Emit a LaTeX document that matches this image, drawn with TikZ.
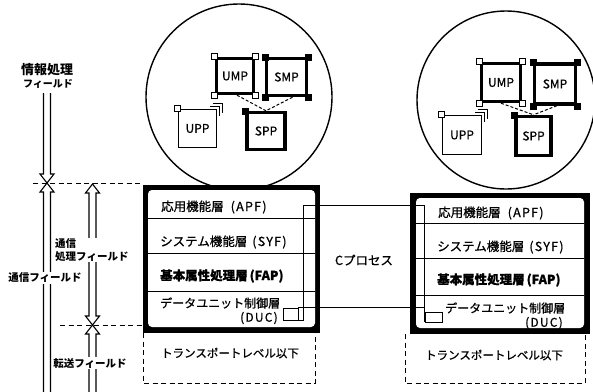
\documentclass[tikz,border=0pt]{standalone}
\usepackage{fontspec}
\setmainfont{Noto Sans CJK JP}
\newfontfamily\medjp{Noto Sans CJK JP}[FakeBold=0.8]
\newfontfamily\latsp{Noto Sans CJK JP}[FakeBold=0.8,LetterSpace=10]
\usetikzlibrary{calc}
\begin{document}
\begin{tikzpicture}[x=1pt,y=-1pt,
  thinln/.style={line width=0.9pt},
  arr/.style={line width=1.1pt},
  dsh/.style={line width=1pt, dash pattern=on 5pt off 3.5pt},
  fld/.style={font=\fontsize{10.5}{12.5}\selectfont\bfseries, inner sep=1pt, fill=white},
  row/.style={font=\fontsize{12.5}{14}\selectfont\medjp, anchor=west, inner sep=0pt},
  proc/.style={draw, line width=3.4pt, minimum width=38pt, minimum height=38pt, inner sep=0pt, fill=white, font=\fontsize{12}{13}\selectfont\medjp},
  uproc/.style={proc, line width=1.2pt},
  wc/.style={draw, fill=white, line width=1pt, minimum size=6pt, inner sep=0pt},
  bc/.style={draw, fill=black, minimum size=6pt, inner sep=0pt},
  sb/.style={draw, line width=0.9pt, inner sep=0pt},
  circ/.style={draw, circle, line width=1.4pt, inner sep=0pt}
]
\useasboundingbox (0,0) rectangle (593,391);
\clip (0,0) rectangle (593,391);

% ---------- circles ----------
\node[circ, minimum size=186pt] (lc) at (239,97) {};
\node[circ, minimum size=178pt] (rc) at (506,100) {};

% ---------- left circle processes ----------
\node[proc, minimum width=37pt, minimum height=35pt] (lU) at (235,76) {UMP};
\node[proc, minimum width=40pt, minimum height=37pt] (lM) at (286.5,77) {SMP};
\node[proc, minimum width=38pt, minimum height=37pt] (lS) at (266,131) {SPP};
\node[uproc, minimum width=38pt, minimum height=38pt] (lP) at (197.5,128.5) {UPP};
\foreach \a in {north west,north east,south west,south east}{
  \node[wc] at (lU.\a) {};
  \node[bc] at (lM.\a) {};
}
\node[bc] at (lS.north west) {};
\node[wc] at (lP.north west) {};
\draw[thinln] ($(lP.north east)+(-7,-2)$) -- ++(9,0) -- ++(0,9);
\draw[thinln] ($(lP.north east)+(-4,-5)$) -- ++(9,0) -- ++(0,9);
\draw[dsh, dash pattern=on 3pt off 2pt] ($(lU.south)+(2,0)$) -- (lS.north);
\draw[dsh, dash pattern=on 3pt off 2pt] ($(lM.south)+(6,0)$) -- (lS.north);

% ---------- right circle processes ----------
\node[proc, minimum width=39pt, minimum height=38pt] (rU) at (501,82.5) {UMP};
\node[proc, minimum width=41pt, minimum height=40pt] (rM) at (555,84) {SMP};
\node[proc, minimum width=35pt, minimum height=39pt] (rS) at (533.5,136) {SPP};
\node[uproc, minimum width=39pt, minimum height=39pt] (rP) at (462,135) {UPP};
\foreach \a in {north west,north east,south west,south east}{
  \node[wc] at (rU.\a) {};
  \node[bc] at (rM.\a) {};
}
\node[bc] at (rS.north west) {};
\node[wc] at (rP.north west) {};
\draw[thinln] ($(rP.north east)+(-7,-2)$) -- ++(9,0) -- ++(0,9);
\draw[thinln] ($(rP.north east)+(-4,-5)$) -- ++(9,0) -- ++(0,9);
\draw[dsh, dash pattern=on 3pt off 2pt] (rU.south) -- (rS.north);
\draw[dsh, dash pattern=on 3pt off 2pt] ($(rM.south)+(2,0)$) -- (rS.north);

% ---------- left layered box ----------
\fill[black] (143,185) rectangle (320,333);
\fill[white, rounded corners=4pt] (148,190) rectangle (315,327);
\draw[thinln] (148,218) -- (315,218);
\draw[thinln] (148,253) -- (315,253);
\draw[thinln] (148,291) -- (315,291);
\node[row] (lapf) at (161,207) {応用機能層\hspace{7pt}{\latsp(APF)}};
\node[row] (lsyf) at (160,242) {システム機能層\hspace{5pt}{\latsp(SYF)}};
\node[row] (lfap) at (160,276) {\bfseries 基本属性処理層\hspace{2pt}(FAP)};
\node[row, font=\fontsize{12}{14}\selectfont\medjp] (lduc) at (160,303) {データユニット制御層};
\node[row, font=\fontsize{12}{14}\selectfont\latsp] (lduc2) at (240,318) {(DUC)};
\draw[dsh] (143,333) -- (143,383) -- (315,383) -- (315,333);
\node[font=\fontsize{11.5}{13}\selectfont\medjp] (ltr) at (230,353) {トランスポートレベル以下};

% ---------- right layered box ----------
\fill[black] (410,193) rectangle (590,334);
\fill[white, rounded corners=4pt] (416,198) rectangle (584,328);
\draw[thinln] (416,223) -- (584,223);
\draw[thinln] (416,258) -- (584,258);
\draw[thinln] (416,295) -- (584,295);
\node[row] (rapf) at (438,213) {応用機能層\hspace{7pt}{\latsp(APF)}};
\node[row] (rsyf) at (437,247) {システム機能層\hspace{5pt}{\latsp(SYF)}};
\node[row] (rfap) at (437,280) {\bfseries 基本属性処理層\hspace{2pt}(FAP)};
\node[row, font=\fontsize{12}{14}\selectfont\medjp] (rduc) at (445,308) {データユニット制御層};
\node[row, font=\fontsize{12}{14}\selectfont\latsp] (rduc2) at (525,323) {(DUC)};
\draw[dsh] (405,334) -- (405,383) -- (585,383) -- (585,334);
\node[font=\fontsize{11.5}{13}\selectfont\medjp] (rtr) at (494,355) {トランスポートレベル以下};

% ---------- C process pipe ----------
\node[sb, minimum width=15pt, minimum height=12pt] (sbL) at (290.5,314) {};
\node[sb, minimum width=17pt, minimum height=10pt] (sbR) at (433.5,317) {};
\coordinate (pL) at (303,205);
\coordinate (pR) at (sbR.west |- pL);
\draw[thinln] (sbL.south east) -- (pL |- sbL.south east) -- (pL) -- (pR) -- (sbR.south west);
\draw[thinln] (sbL.north east) -- (sbR.west |- sbL.north east);
\node[font=\fontsize{12.5}{14}\selectfont\medjp] (cp) at (364,260) {Cプロセス};

% ---------- field boundaries ----------
\coordinate (x1) at (47,183);
\coordinate (x2) at (92.5,325);
\draw[dsh] (33,183) -- (143,183);
\draw[dsh] (60,325) -- (143,325);

% ---------- field arrows ----------
\draw[arr] (43.5,93) -- (43.5,174) -- (40,174) -- (x1) -- (54,174) -- (50.5,174) -- (50.5,93);
\draw[arr] (43.5,395) -- (43.5,192) -- (40,192) -- (x1) -- (54,192) -- (50.5,192) -- (50.5,395);
\draw[arr] (92.5,184) -- (99.5,193) -- (96,193) -- (96,316) -- (99.5,316) -- (x2) -- (85.5,316) -- (89,316) -- (89,193) -- (85.5,193) -- cycle;
\draw[arr] (89,395) -- (89,334) -- (85.5,334) -- (x2) -- (99.5,334) -- (96,334) -- (96,395);

% ---------- field labels ----------
\node[font=\fontsize{13}{14}\selectfont\bfseries, inner sep=0pt] (fi1) at (47,70) {情報処理};
\node[font=\fontsize{10}{12}\selectfont\bfseries, inner sep=0pt] (fi2) at (48,84) {フィールド};
\node[fld] (fc) at (45,278) {通信フィールド};
\node[fld, align=left, anchor=west] (fp) at (54,250) {通信\\処理フィールド};
\node[fld] (ft) at (90,363) {転送フィールド};
\end{tikzpicture}
\end{document}
